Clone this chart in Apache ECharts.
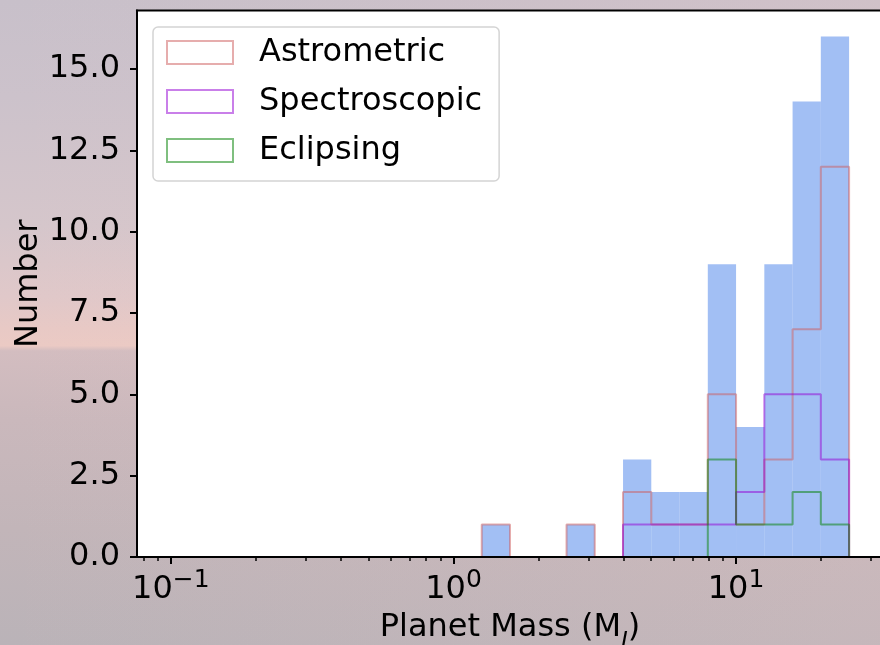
<!DOCTYPE html>
<html>
<head>
<meta charset="utf-8">
<title>Planet Mass Histogram</title>
<script src="https://cdn.jsdelivr.net/npm/echarts@6/dist/echarts.min.js"></script>
<style>
  html, body { margin: 0; padding: 0; }
  #wrap {
    width: 880px; height: 645px; position: relative;
    background:
      linear-gradient(to right, rgba(255,255,255,0) 0%, rgba(232,196,196,0.25) 100%),
      linear-gradient(to bottom, #c8c0ca 0%, #ccc2cb 15%, #d5c6cb 35%, #e0c8c9 46%, #e8c9c5 51%, #ebcac4 53.6%, #d3bdc0 54.4%, #cab8bc 65%, #c2b5b9 82%, #bab3b8 100%);
  }
  #chart { width: 880px; height: 645px; }
</style>
</head>
<body>
<div id="wrap"><div id="chart"></div></div>
<script>
// Logarithmic mass bins (0.1 dex wide), in Jupiter masses
const binEdges = [1.259, 1.585, 1.995, 2.512, 3.162, 3.981, 5.012, 6.310, 7.943, 10.0, 12.59, 15.85, 19.95, 25.12];

// Counts per bin
const allCounts      = [1, 0, 0, 1, 0, 3, 2, 2, 9, 4, 9, 14, 16];
const astrometric    = [1, 0, 0, 1, 0, 2, 1, 1, 5, 1, 3, 7, 12];
const spectroscopic  = [0, 0, 0, 0, 0, 1, 1, 1, 1, 2, 5, 5, 3];
const eclipsing      = [0, 0, 0, 0, 0, 0, 0, 0, 3, 1, 1, 2, 1];

// Axis ticks
const xMajorTicks = [0.1, 1, 10];
const xMinorTicks = [0.08, 0.09, 0.2, 0.3, 0.4, 0.5, 0.6, 0.7, 0.8, 0.9,
                     2, 3, 4, 5, 6, 7, 8, 9, 20, 30];
const yTicks = [0, 2.5, 5, 7.5, 10, 12.5, 15];

const FONT = 'DejaVu Sans';
const xMin = Math.pow(10, -1.12);
const xMax = Math.pow(10, 1.52);

// Outline of a step histogram: corner points built from edges and counts
function stepOutline(edges, counts) {
  const pts = [[edges[0], 0]];
  for (let i = 0; i < counts.length; i++) {
    pts.push([edges[i], counts[i]]);
    pts.push([edges[i + 1], counts[i]]);
  }
  pts.push([edges[edges.length - 1], 0]);
  return pts;
}

// Filled bars: [lo, hi, count]
const barData = allCounts.map((c, i) => [binEdges[i], binEdges[i + 1], c]).filter(d => d[2] > 0);

const supLabel = v => {
  const e = Math.round(Math.log10(v));
  return '{b|10}{s|' + (e < 0 ? '\u2212' + (-e) : e) + '}';
};

const stepSeries = (name, counts, color) => ({
  name: name,
  type: 'line',
  data: stepOutline(binEdges, counts),
  symbol: 'none',
  lineStyle: { color: color, width: 2 },
  itemStyle: { color: color },
  z: 3,
  silent: true,
  animation: false
});

const chart = echarts.init(document.getElementById('chart'), null, { renderer: 'canvas' });

chart.setOption({
  animation: false,
  backgroundColor: 'transparent',
  textStyle: { fontFamily: FONT },
  grid: {
    left: 137, top: 10.5, width: 746, height: 546.5,
    outerBoundsMode: 'none', containLabel: false,
    show: true, backgroundColor: '#ffffff', borderColor: '#000000', borderWidth: 2
  },
  legend: {
    left: 153, top: 27, orient: 'vertical',
    icon: 'rect', itemWidth: 66, itemHeight: 23, itemGap: 9,
    padding: [5.5, 17, 10.5, 13],
    backgroundColor: 'rgba(255,255,255,0.8)',
    borderColor: '#d4d4d4', borderWidth: 1.5, borderRadius: 5,
    selectedMode: false,
    textStyle: { fontFamily: FONT, fontSize: 32, color: '#000', lineHeight: 40, padding: [0, 0, 0, 21] },
    data: [
      { name: 'Astrometric',   itemStyle: { color: 'rgba(255,255,255,0)', borderColor: 'rgba(205,92,92,0.5)', borderWidth: 2 } },
      { name: 'Spectroscopic', itemStyle: { color: 'rgba(255,255,255,0)', borderColor: 'rgba(148,0,211,0.5)', borderWidth: 2 } },
      { name: 'Eclipsing',     itemStyle: { color: 'rgba(255,255,255,0)', borderColor: 'rgba(0,128,0,0.5)', borderWidth: 2 } }
    ]
  },
  xAxis: [
    {
      type: 'log', logBase: 10, min: xMin, max: xMax, z: 10,
      name: '{n|Planet Mass (M}{j|J}{n|)}',
      nameLocation: 'middle', nameGap: 55, nameMoveOverlap: false,
      nameTextStyle: {
        rich: {
          n: { fontFamily: FONT, fontSize: 32, color: '#000', verticalAlign: 'top', lineHeight: 32 },
          j: { fontFamily: FONT, fontSize: 23, fontStyle: 'italic', color: '#000', verticalAlign: 'bottom', lineHeight: 42 }
        }
      },
      axisLine: { show: true, lineStyle: { color: '#000', width: 2 } },
      axisTick: { show: true, customValues: xMajorTicks, length: 7, lineStyle: { color: '#000', width: 2 } },
      axisLabel: {
        show: true, customValues: xMajorTicks, margin: 11,
        formatter: supLabel,
        rich: {
          b: { fontFamily: FONT, fontSize: 32, color: '#000', verticalAlign: 'bottom', lineHeight: 38 },
          s: { fontFamily: FONT, fontSize: 25, color: '#000', verticalAlign: 'top', lineHeight: 25 }
        }
      },
      splitLine: { show: false },
      minorTick: { show: false }
    },
    {
      type: 'log', logBase: 10, min: xMin, max: xMax, z: 10, position: 'bottom',
      axisLine: { show: false },
      axisTick: { show: true, customValues: xMinorTicks, length: 4, lineStyle: { color: '#000', width: 1.5 } },
      axisLabel: { show: false },
      splitLine: { show: false }
    }
  ],
  yAxis: {
    type: 'value', min: 0, max: 16.8, z: 10,
    name: 'Number', nameLocation: 'middle', nameRotate: 90, nameGap: 92, nameMoveOverlap: false,
    nameTextStyle: { fontFamily: FONT, fontSize: 32, color: '#000' },
    axisLine: { show: true, lineStyle: { color: '#000', width: 2 } },
    axisTick: { show: true, customValues: yTicks, length: 7, lineStyle: { color: '#000', width: 2 } },
    axisLabel: { fontFamily: FONT, fontSize: 32, color: '#000', margin: 17, customValues: yTicks, formatter: v => v.toFixed(1) },
    splitLine: { show: false }
  },
  series: [
    {
      name: 'All',
      type: 'custom',
      data: barData,
      encode: { x: [0, 1], y: 2 },
      z: 2,
      silent: true,
      renderItem: function (params, api) {
        const lo = api.value(0), hi = api.value(1), c = api.value(2);
        const top = api.coord([lo, c]);
        const bot = api.coord([hi, 0]);
        return {
          type: 'rect',
          shape: { x: top[0], y: top[1], width: bot[0] - top[0], height: bot[1] - top[1] },
          style: { fill: 'rgba(100,149,237,0.6)' }
        };
      }
    },
    stepSeries('Astrometric', astrometric, 'rgba(205,92,92,0.5)'),
    stepSeries('Spectroscopic', spectroscopic, 'rgba(148,0,211,0.5)'),
    stepSeries('Eclipsing', eclipsing, 'rgba(0,128,0,0.5)')
  ]
});
</script>
</body>
</html>
